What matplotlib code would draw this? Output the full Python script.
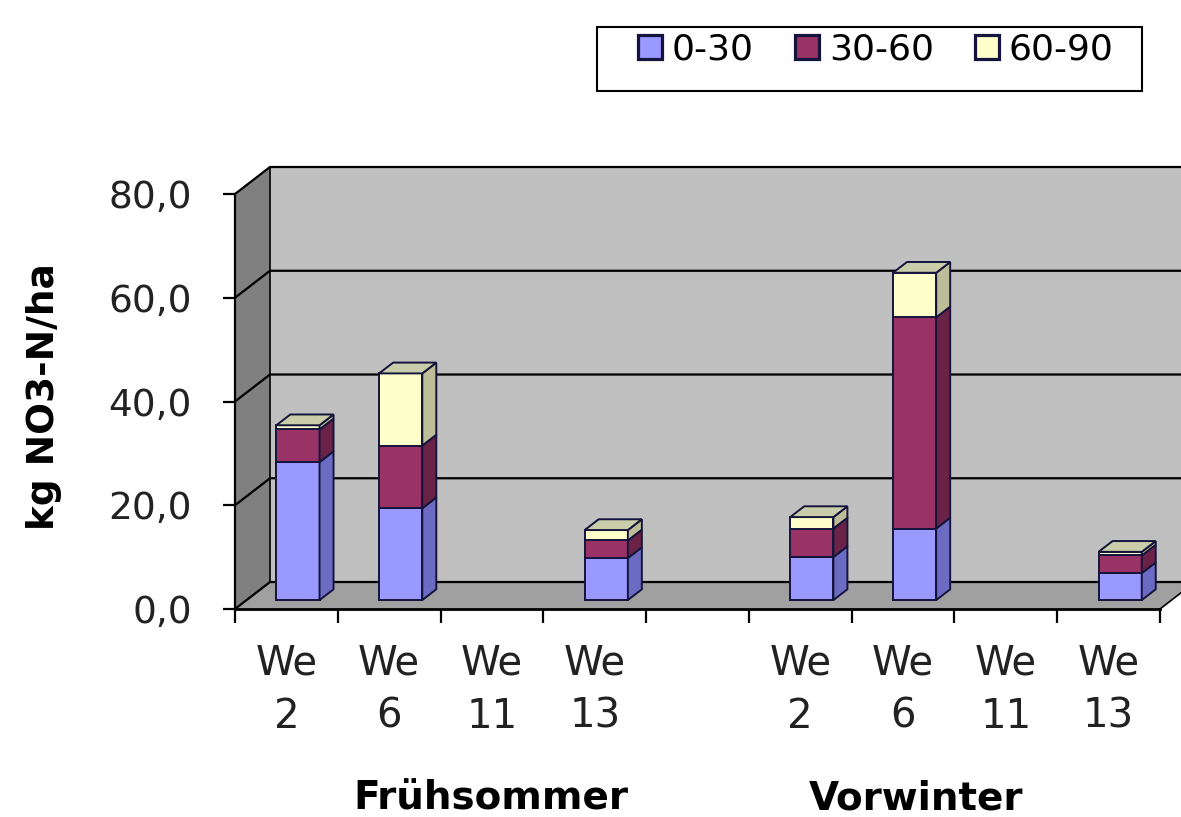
import numpy as np
import matplotlib.pyplot as plt
from matplotlib.patches import Polygon, Patch, Rectangle


categories = ["We\n2", "We\n6", "We\n11", "We\n13"]
groups = ["Frühsommer", "Vorwinter"]
layer_names = ["0-30", "30-60", "60-90"]

# kg NO3-N/ha per soil layer (Frühsommer first, then Vorwinter)
layer_0_30 = [26.6, 17.7, 0.0, 8.1, 8.3, 13.8, 0.0, 5.2]
layer_30_60 = [6.3, 12.1, 0.0, 3.4, 5.5, 40.7, 0.0, 3.4]
layer_60_90 = [0.8, 13.9, 0.0, 2.0, 2.2, 8.6, 0.0, 0.7]

y_ticks = [0, 20, 40, 60, 80]

front_colors = ["#9999FF", "#993366", "#FFFFCC"]
side_colors = ["#6B6BC4", "#6A2347", "#BDBD98"]
top_colors = ["#B8B8E8", "#B0607F", "#C9CDA9"]
edge = "#14143C"

plt.rcParams["font.family"] = "DejaVu Sans"

fig = plt.figure(figsize=(11.81, 8.17), dpi=100)
ax = fig.add_axes([235 / 1181, (817 - 609) / 817, 925 / 1181, 415 / 817])
ax.patch.set_visible(False)

n_slots = len(groups) * (len(categories) + 1) - 1
ax.set_xlim(0, n_slots)
ax.set_ylim(0, 80)

# depth of the fake 3d box, in data units
dx = 35 / 102.8
dy = 27 / 5.19

# walls and floor
side_wall = Polygon([(0, 0), (dx, dy), (dx, 80 + dy), (0, 80)], closed=True,
                    facecolor="#808080", edgecolor="none", clip_on=False, zorder=0)
back_wall = Polygon([(dx, dy), (n_slots + dx, dy), (n_slots + dx, 80 + dy), (dx, 80 + dy)],
                    closed=True, facecolor="#C0C0C0", edgecolor="none", clip_on=False, zorder=0)
floor = Polygon([(0, 0), (n_slots, 0), (n_slots + dx, dy), (dx, dy)], closed=True,
                facecolor="#A0A0A0", edgecolor="none", clip_on=False, zorder=0)
for p in (side_wall, back_wall, floor):
    ax.add_patch(p)

for v in y_ticks:
    ax.plot([0, dx, n_slots + dx], [v, v + dy, v + dy], color="black", lw=1.6,
            clip_on=False, zorder=1)
ax.plot([dx, dx], [dy, 80 + dy], color="black", lw=1.2, clip_on=False, zorder=1)
ax.plot([n_slots, n_slots + dx], [0, dy], color="black", lw=1.2, clip_on=False, zorder=1)

# stacked bars with side and top faces
slots = np.array([g * (len(categories) + 1) + i
                  for g in range(len(groups)) for i in range(len(categories))])
layers = [np.array(layer_0_30), np.array(layer_30_60), np.array(layer_60_90)]
totals = np.sum(layers, axis=0)

f_front, f_back = 0.33, 0.73
bar_w = 0.42
ox, oy = f_front * dx, f_front * dy
bx, by = (f_back - f_front) * dx, (f_back - f_front) * dy
centers = slots + 0.5 + ox

bottom = np.zeros(len(slots))
for k, vals in enumerate(layers):
    show = vals > 0
    ax.bar(centers[show], vals[show], bottom=bottom[show] + oy, width=bar_w,
           color=front_colors[k], edgecolor=edge, linewidth=1.4, zorder=3, clip_on=False)
    for c, b, v, t in zip(centers, bottom, vals, totals):
        if v <= 0:
            continue
        x0, x1 = c - bar_w / 2, c + bar_w / 2
        y0, y1 = b + oy, b + v + oy
        ax.add_patch(Polygon([(x1, y0), (x1 + bx, y0 + by), (x1 + bx, y1 + by), (x1, y1)],
                             closed=True, facecolor=side_colors[k], edgecolor=edge,
                             linewidth=1.4, zorder=3, clip_on=False))
        if np.isclose(b + v, t):
            ax.add_patch(Polygon([(x0, y1), (x1, y1), (x1 + bx, y1 + by), (x0 + bx, y1 + by)],
                                 closed=True, facecolor=top_colors[k], edgecolor=edge,
                                 linewidth=1.4, zorder=3, clip_on=False))
    bottom = bottom + vals

# axes
for s in ("top", "right"):
    ax.spines[s].set_visible(False)
ax.spines["left"].set_linewidth(1.6)
ax.spines["bottom"].set_linewidth(2)
ax.spines["left"].set_zorder(2)
ax.spines["bottom"].set_zorder(2)

ax.set_yticks(y_ticks)
ax.set_yticklabels([f"{v:.1f}".replace(".", ",") for v in y_ticks], fontsize=27, color="#222222")
ax.tick_params(axis="y", length=9, width=1.6, pad=22)

ax.set_xticks(np.arange(n_slots + 1))
ax.set_xticklabels([])
ax.tick_params(axis="x", which="major", length=10, width=1.6, direction="out")
ax.set_xticks(slots + 0.5, minor=True)
ax.set_xticklabels(categories * len(groups), minor=True, fontsize=29, color="#222222",
                   linespacing=1.42)
ax.tick_params(axis="x", which="minor", length=0, pad=25)

fig.text(44 / 1181, 1 - 397 / 817, "kg NO3-N/ha", rotation=90, fontsize=27,
         fontweight="bold", ha="center", va="center")
fig.text(491 / 1181, 1 - 810 / 817, groups[0], fontsize=28, fontweight="bold",
         ha="center", va="baseline")
fig.text(916 / 1181, 1 - 810 / 817, groups[1], fontsize=28, fontweight="bold",
         ha="center", va="baseline")

# legend box drawn separately so the padding can match
fig.patches.append(Rectangle((597 / 1181, 1 - 91 / 817), 545 / 1181, 64 / 817,
                             transform=fig.transFigure, facecolor="white",
                             edgecolor="black", linewidth=1.5, zorder=1))
handles = [Patch(facecolor=c, edgecolor=edge, linewidth=2.3) for c in front_colors]
leg = fig.legend(handles, layer_names, loc="center", bbox_to_anchor=(876 / 1181, 1 - 50 / 817),
                 ncol=3, fontsize=26, frameon=False, handlelength=0.65,
                 handleheight=0.65, handletextpad=0.28, columnspacing=1.15,
                 borderpad=0, borderaxespad=0)
leg.set_zorder(2)

fig.savefig("out.png", dpi=100)
